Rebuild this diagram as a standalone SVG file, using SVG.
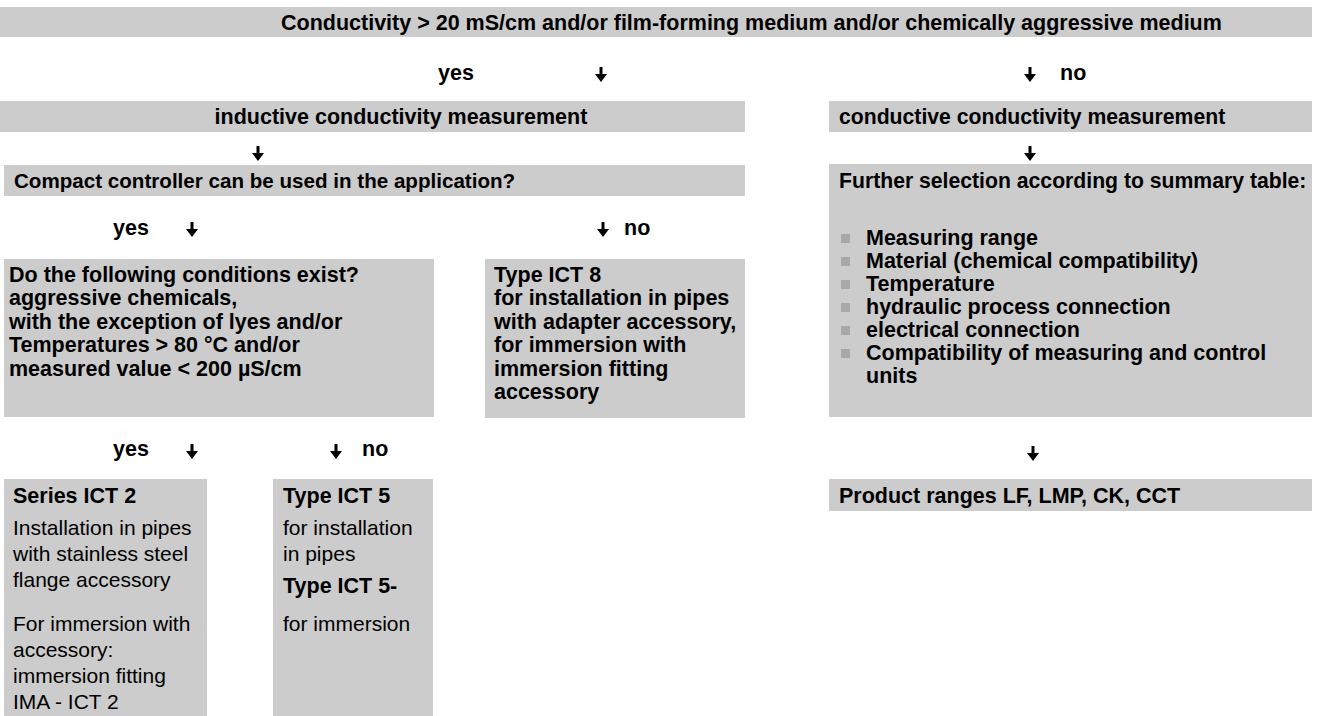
<svg xmlns="http://www.w3.org/2000/svg" width="1318" height="716" viewBox="0 0 1318 716">
  <defs>
    <marker id="ah" markerUnits="userSpaceOnUse" markerWidth="8" markerHeight="12" refX="1" refY="6" orient="auto" viewBox="0 0 8 12">
      <path d="M0,0 L8,6 L0,12 Z" fill="#000"/>
    </marker>
  </defs>
  <style>
    .box { fill: #cccccc; }
    .bul { fill: #a8a8a8; }
    text { font-family: "Liberation Sans", Arial, Helvetica, sans-serif; font-size: 21.5px; fill: #000; }
    .b { font-weight: bold; }
    .r { font-weight: normal; font-size: 21px; }
    .mid { text-anchor: middle; }
    .arr { stroke: #000; stroke-width: 3; fill: none; marker-end: url(#ah); }
  </style>
  <rect width="1318" height="716" fill="#ffffff"/>

  <g id="n-start">
    <rect class="box" x="0" y="7" width="1312" height="30"/>
    <text class="b" x="281" y="29.5">Conductivity &gt; 20 mS/cm and/or film-forming medium and/or chemically aggressive medium</text>
  </g>

  <g id="n-inductive">
    <rect class="box" x="0" y="101" width="745" height="31"/>
    <text class="b mid" x="401" y="123.5">inductive conductivity measurement</text>
  </g>

  <g id="n-conductive">
    <rect class="box" x="829" y="101" width="483" height="31"/>
    <text class="b" x="839" y="123.5" style="font-size:21.2px">conductive conductivity measurement</text>
  </g>

  <g id="n-compact">
    <rect class="box" x="4" y="165" width="741" height="31"/>
    <text class="b" x="14" y="187.5" style="font-size:20.6px">Compact controller can be used in the application?</text>
  </g>

  <g id="n-further">
    <rect class="box" x="829" y="164" width="483" height="253"/>
    <text class="b" x="839" y="187.5" style="font-size:21.2px">Further selection according to summary table:</text>
    <rect class="bul" x="841" y="234" width="9" height="9"/>
    <text class="b" x="866" y="244.5">Measuring range</text>
    <rect class="bul" x="841" y="257" width="9" height="9"/>
    <text class="b" x="866" y="267.5">Material (chemical compatibility)</text>
    <rect class="bul" x="841" y="280" width="9" height="9"/>
    <text class="b" x="866" y="290.5">Temperature</text>
    <rect class="bul" x="841" y="303" width="9" height="9"/>
    <text class="b" x="866" y="313.5">hydraulic process connection</text>
    <rect class="bul" x="841" y="326" width="9" height="9"/>
    <text class="b" x="866" y="336.5">electrical connection</text>
    <rect class="bul" x="841" y="349" width="9" height="9"/>
    <text class="b" x="866" y="359.5">Compatibility of measuring and control</text>
    <text class="b" x="866" y="382.5">units</text>
  </g>

  <g id="n-conditions">
    <rect class="box" x="4" y="259" width="430" height="158"/>
    <text class="b" x="9" y="281.5">Do the following conditions exist?</text>
    <text class="b" x="9" y="305">aggressive chemicals,</text>
    <text class="b" x="9" y="328.5">with the exception of lyes and/or</text>
    <text class="b" x="9" y="352">Temperatures &gt; 80 °C and/or</text>
    <text class="b" x="9" y="375.5">measured value &lt; 200 µS/cm</text>
  </g>

  <g id="n-ict8">
    <rect class="box" x="485" y="259" width="260" height="159"/>
    <text class="b" x="494" y="281.5">Type ICT 8</text>
    <text class="b" x="494" y="305">for installation in pipes</text>
    <text class="b" x="494" y="328.5">with adapter accessory,</text>
    <text class="b" x="494" y="352">for immersion with</text>
    <text class="b" x="494" y="375.5">immersion fitting</text>
    <text class="b" x="494" y="399">accessory</text>
  </g>

  <g id="n-ict2">
    <rect class="box" x="4" y="479" width="203" height="237"/>
    <text class="b" x="13" y="503">Series ICT 2</text>
    <text class="r" x="13" y="535">Installation in pipes</text>
    <text class="r" x="13" y="561">with stainless steel</text>
    <text class="r" x="13" y="587">flange accessory</text>
    <text class="r" x="13" y="631">For immersion with</text>
    <text class="r" x="13" y="657">accessory:</text>
    <text class="r" x="13" y="683">immersion fitting</text>
    <text class="r" x="13" y="709">IMA - ICT 2</text>
  </g>

  <g id="n-ict5">
    <rect class="box" x="273" y="479" width="160" height="237"/>
    <text class="b" x="283" y="503">Type ICT 5</text>
    <text class="r" x="283" y="535">for installation</text>
    <text class="r" x="283" y="561">in pipes</text>
    <text class="b" x="283" y="593">Type ICT 5-</text>
    <text class="r" x="283" y="631">for immersion</text>
  </g>

  <g id="n-products">
    <rect class="box" x="829" y="479" width="483" height="32"/>
    <text class="b" x="839" y="502.5">Product ranges LF, LMP, CK, CCT</text>
  </g>

  <g id="connectors">
    <text class="b" x="438" y="79.5">yes</text>
    <path class="arr" d="M601,67 V75"/>
    <path class="arr" d="M1030,67 V75"/>
    <text class="b" x="1060" y="79.5">no</text>

    <path class="arr" d="M258,146 V154"/>
    <path class="arr" d="M1030,146 V154"/>

    <text class="b" x="113" y="235">yes</text>
    <path class="arr" d="M192,222 V230"/>
    <path class="arr" d="M603,222 V230"/>
    <text class="b" x="624" y="235">no</text>

    <text class="b" x="113" y="456">yes</text>
    <path class="arr" d="M192,444 V452"/>
    <path class="arr" d="M336,444 V452"/>
    <text class="b" x="362" y="456">no</text>

    <path class="arr" d="M1033,446 V454"/>
  </g>
</svg>
